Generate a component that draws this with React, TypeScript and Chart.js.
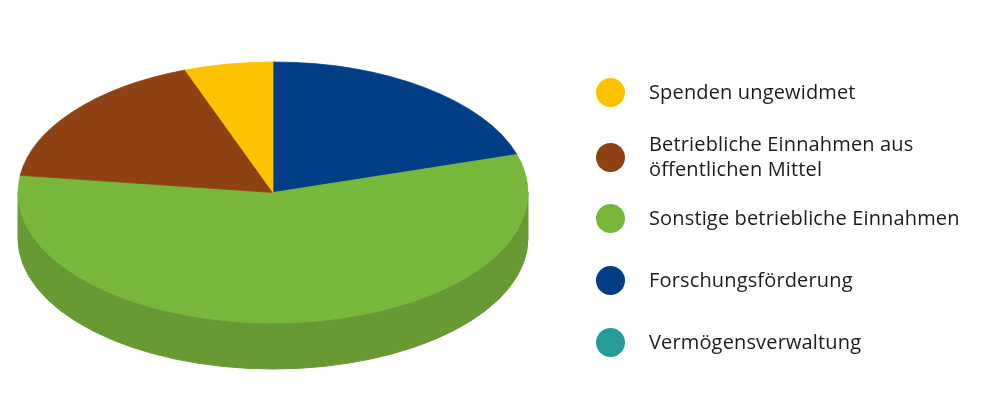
import React, { useEffect, useRef } from "react";
import { Chart, registerables } from "chart.js";

Chart.register(...registerables);

// Legend order
const categories = [
  "Spenden ungewidmet",
  "Betriebliche Einnahmen aus öffentlichen Mittel",
  "Sonstige betriebliche Einnahmen",
  "Forschungsförderung",
  "Vermögensverwaltung",
];
const legendLines = [
  ["Spenden ungewidmet"],
  ["Betriebliche Einnahmen aus", "öffentlichen Mittel"],
  ["Sonstige betriebliche Einnahmen"],
  ["Forschungsförderung"],
  ["Vermögensverwaltung"],
];
const values = [5.6, 17.3, 56.8, 20.3, 0];
const colors = ["#FDC300", "#8E4112", "#77B83A", "#013E85", "#269B99"];
const sideColors = ["#D6A500", "#76360F", "#689A33", "#01336E", "#1F817F"];
const legendCenters = [92.5, 157, 218.5, 280.5, 342];

const TILT = 130.5 / 255;
const DEPTH = 46;
const RADIUS = 255;
const CX = 273;
const CY = 192.5;
const W = 1000;
const H = 416;

export default function App() {
  const ref = useRef<HTMLCanvasElement | null>(null);

  useEffect(() => {
    if (!ref.current) return;
    // pie drawn clockwise from top: reverse legend order
    const labels = [...categories].reverse();
    const data = [...values].reverse();
    const bg = [...colors].reverse();
    const side = [...sideColors].reverse();

    const pie3d = {
      id: "pie3d",
      beforeDatasetsDraw(chart: any) {
        const ctx = chart.ctx as CanvasRenderingContext2D;
        const arcs = chart.getDatasetMeta(0).data as any[];
        const cy = (chart.chartArea.top + chart.chartArea.bottom) / 2;
        // side walls (front-facing part only)
        arcs.forEach((arc, i) => {
          const p = arc.getProps(["x", "startAngle", "endAngle", "outerRadius"], true);
          const ranges = [
            [0, Math.PI],
            [2 * Math.PI, 3 * Math.PI],
          ];
          ranges.forEach(([lo, hi]) => {
            const a0 = Math.max(p.startAngle, lo);
            const a1 = Math.min(p.endAngle, hi);
            if (a1 <= a0) return;
            const r = p.outerRadius;
            ctx.save();
            ctx.beginPath();
            ctx.ellipse(p.x, cy, r, r * TILT, 0, a0, a1, false);
            ctx.ellipse(p.x, cy + DEPTH, r, r * TILT, 0, a1, a0, true);
            ctx.closePath();
            ctx.fillStyle = side[i];
            ctx.fill();
            ctx.strokeStyle = side[i];
            ctx.lineWidth = 1;
            ctx.stroke();
            ctx.restore();
          });
        });
        ctx.save();
        ctx.translate(0, cy);
        ctx.scale(1, TILT);
        ctx.translate(0, -cy);
      },
      afterDatasetsDraw(chart: any) {
        chart.ctx.restore();
      },
    };

    const chart = new Chart(ref.current, {
      type: "pie",
      data: {
        labels,
        datasets: [
          {
            data,
            backgroundColor: bg,
            borderColor: bg,
            borderWidth: 1,
            radius: RADIUS,
            clip: false,
          } as any,
        ],
      },
      options: {
        animation: false,
        responsive: true,
        maintainAspectRatio: false,
        events: [],
        layout: {
          padding: { left: 0, right: W - 2 * CX, top: 0, bottom: H - 2 * CY },
        },
        plugins: {
          legend: { display: false },
          tooltip: { enabled: false },
        },
      },
      plugins: [pie3d as any],
    });
    return () => chart.destroy();
  }, []);

  return (
    <div
      style={{
        position: "absolute",
        left: 0,
        top: 0,
        width: W,
        height: H,
        background: "#fff",
        overflow: "hidden",
      }}
    >
      <div style={{ position: "absolute", left: 0, top: 0, width: W, height: H }}>
        <canvas ref={ref} />
      </div>
      {categories.map((c, i) => {
        const lines = legendLines[i];
        const cy = legendCenters[i];
        return (
          <React.Fragment key={c}>
            <div
              style={{
                position: "absolute",
                left: 595.5,
                top: cy - 14.5,
                width: 29,
                height: 29,
                borderRadius: "50%",
                background: colors[i],
              }}
            />
            <div
              style={{
                position: "absolute",
                left: 649,
                top: cy - (lines.length * 25) / 2 - 1,
                lineHeight: "25px",
                fontSize: 20,
                letterSpacing: "0.15px",
                fontFamily: "'Open Sans', sans-serif",
                color: "#1c1c1c",
                whiteSpace: "nowrap",
              }}
            >
              {lines.map((l, k) => (
                <div key={k}>{l}</div>
              ))}
            </div>
          </React.Fragment>
        );
      })}
    </div>
  );
}
